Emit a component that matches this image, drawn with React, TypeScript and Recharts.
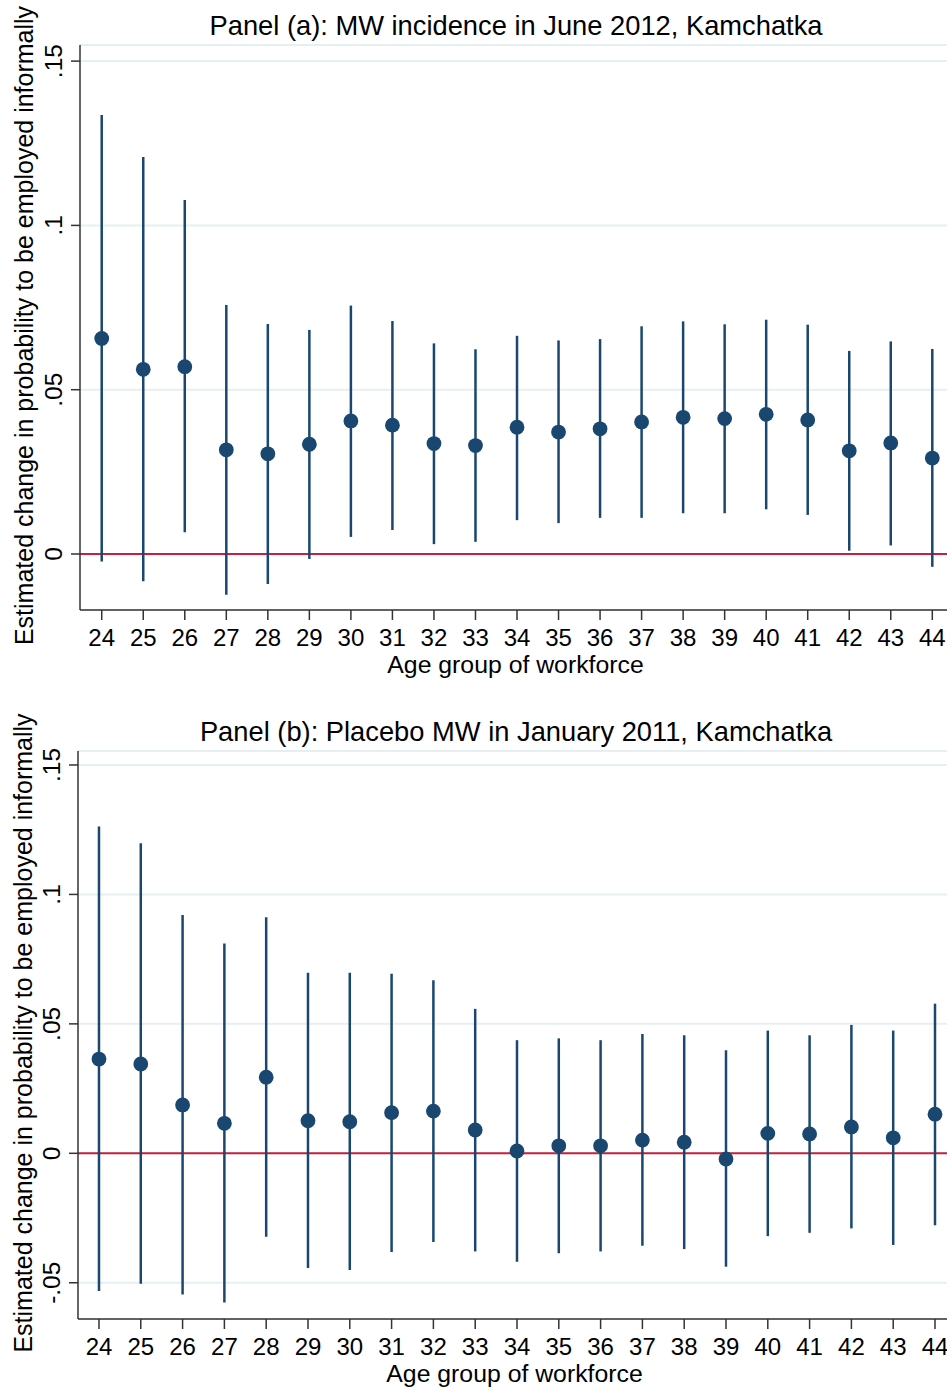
import React from "react";
import {
  ComposedChart,
  Scatter,
  ErrorBar,
  XAxis,
  YAxis,
  CartesianGrid,
  ReferenceLine,
} from "recharts";

const ages = [24, 25, 26, 27, 28, 29, 30, 31, 32, 33, 34, 35, 36, 37, 38, 39, 40, 41, 42, 43, 44];

// Panel (a): MW incidence in June 2012
const aPoint = [0.0656, 0.0562, 0.057, 0.0317, 0.0305, 0.0334, 0.0405, 0.0392, 0.0336, 0.033, 0.0386, 0.0371, 0.0381, 0.0402, 0.0416, 0.0412, 0.0425, 0.0408, 0.0314, 0.0338, 0.0292];
const aLow = [-0.0023, -0.0083, 0.0066, -0.0124, -0.0091, -0.0015, 0.0052, 0.0073, 0.003, 0.0037, 0.0103, 0.0094, 0.011, 0.011, 0.0124, 0.0124, 0.0136, 0.0119, 0.001, 0.0026, -0.0039];
const aHigh = [0.1336, 0.1208, 0.1077, 0.0758, 0.07, 0.0682, 0.0756, 0.0709, 0.0641, 0.0623, 0.0664, 0.065, 0.0654, 0.0693, 0.0708, 0.0699, 0.0713, 0.0698, 0.0618, 0.0647, 0.0624];

// Panel (b): Placebo MW in January 2011
const bPoint = [0.0364, 0.0345, 0.0187, 0.0116, 0.0294, 0.0126, 0.0122, 0.0157, 0.0163, 0.009, 0.0009, 0.0029, 0.0029, 0.0051, 0.0043, -0.0022, 0.0077, 0.0075, 0.0102, 0.006, 0.0151];
const bLow = [-0.0532, -0.0504, -0.0545, -0.0576, -0.0322, -0.0443, -0.0451, -0.0381, -0.0343, -0.0379, -0.0419, -0.0386, -0.0379, -0.0357, -0.037, -0.0438, -0.032, -0.0307, -0.029, -0.0354, -0.0278];
const bHigh = [0.1262, 0.1198, 0.0921, 0.081, 0.0912, 0.0697, 0.0697, 0.0694, 0.0668, 0.0558, 0.0437, 0.0444, 0.0437, 0.0461, 0.0456, 0.0398, 0.0474, 0.0456, 0.0496, 0.0474, 0.0578];

const aTicks = [0, 0.05, 0.1, 0.15];
const bTicks = [-0.05, 0, 0.05, 0.1, 0.15];

const titleA = "Panel (a): MW incidence in June 2012, Kamchatka";
const titleB = "Panel (b): Placebo MW in January 2011, Kamchatka";
const xTitle = "Age group of workforce";
const yTitle = "Estimated change in probability to be employed informally";

const FONT = "'Liberation Sans', Arial, Helvetica, sans-serif";
const NAVY = "#1a476f";
const RED = "#c8203c";
const AXIS = "#333333";
const GRID = "#e6eff2";

const build = (p: number[], lo: number[], hi: number[]) =>
  ages.map((age, i) => ({ age, p: p[i], err: [p[i] - lo[i], hi[i] - p[i]] }));

const dataA = build(aPoint, aLow, aHigh);
const dataB = build(bPoint, bLow, bHigh);

const fmt = (v: number) => {
  if (Math.abs(v) < 1e-9) return "0";
  const s = String(Math.round(Math.abs(v) * 1000) / 1000).replace(/^0/, "");
  return (v < 0 ? "-" : "") + s;
};

const Dot = (props: any) => {
  const { cx, cy } = props;
  if (cx == null || cy == null) return null;
  return <circle cx={cx} cy={cy} r={7.4} fill={NAVY} />;
};

type PanelProps = {
  data: any[];
  height: number;
  top: number;
  yWidth: number;
  xHeight: number;
  xDomain: [number, number];
  yDomain: [number, number];
  yTicks: number[];
  yTickX: number;
  yLabelX: number;
};

const Panel = ({ data, height, top, yWidth, xHeight, xDomain, yDomain, yTicks, yTickX, yLabelX }: PanelProps) => {
  const YTick = (props: any) => {
    const { y, payload } = props;
    return (
      <text
        x={yTickX}
        y={y}
        transform={`rotate(-90, ${yTickX}, ${y})`}
        textAnchor="middle"
        fontSize={24.5}
        fontFamily={FONT}
        fill="#000"
      >
        {fmt(payload.value)}
      </text>
    );
  };
  return (
    <ComposedChart width={947} height={height} data={data} margin={{ top, right: 0, bottom: 0, left: 0 }}>
      <CartesianGrid vertical={false} stroke={GRID} strokeWidth={2} />
      <XAxis
        dataKey="age"
        type="number"
        domain={xDomain}
        ticks={ages}
        allowDataOverflow
        height={xHeight}
        tickSize={10}
        tickMargin={9}
        stroke={AXIS}
        strokeWidth={1.5}
        tick={{ fontSize: 24, fontFamily: FONT, fill: "#000" }}
        interval={0}
        label={{
          content: (lp: any) => {
            const vb = lp.viewBox || {};
            return (
              <text
                x={(vb.x ?? 0) + (vb.width ?? 0) / 2 + 2}
                y={(vb.y ?? 0) + 63}
                textAnchor="middle"
                fontSize={24.8}
                fontFamily={FONT}
                fill="#000"
              >
                {xTitle}
              </text>
            );
          },
        }}
      />
      <YAxis
        type="number"
        domain={yDomain}
        ticks={yTicks}
        allowDataOverflow
        width={yWidth}
        tickSize={9}
        stroke={AXIS}
        strokeWidth={1.5}
        tick={<YTick />}
        interval={0}
        label={{
          content: (lp: any) => {
            const vb = lp.viewBox || {};
            const cy = (vb.y ?? 0) + (vb.height ?? 0) / 2 - 2;
            return (
              <text
                x={yLabelX}
                y={cy}
                transform={`rotate(-90, ${yLabelX}, ${cy})`}
                textAnchor="middle"
                fontSize={25}
                fontFamily={FONT}
                fill="#000"
              >
                {yTitle}
              </text>
            );
          },
        }}
      />
      <ReferenceLine y={0} stroke={RED} strokeWidth={2} />
      <Scatter dataKey="p" shape={<Dot />} isAnimationActive={false}>
        <ErrorBar dataKey="err" direction="y" width={0} stroke={NAVY} strokeWidth={2.5} isAnimationActive={false} />
      </Scatter>
    </ComposedChart>
  );
};

export default function App() {
  return (
    <div style={{ position: "absolute", left: 0, top: 0, width: 947, height: 1389, background: "#fff" }}>
      <div style={{ position: "absolute", left: 0, top: 0 }}>
        <Panel
          data={dataA}
          height={700}
          top={45}
          yWidth={80}
          xHeight={90}
          xDomain={[23.477, 44.354]}
          yDomain={[-0.01704, 0.1549]}
          yTicks={aTicks}
          yTickX={62}
          yLabelX={33}
        />
      </div>
      <div style={{ position: "absolute", left: 0, top: 700 }}>
        <Panel
          data={dataB}
          height={689}
          top={51}
          yWidth={78}
          xHeight={70}
          xDomain={[23.498, 44.287]}
          yDomain={[-0.064, 0.1554]}
          yTicks={bTicks}
          yTickX={60}
          yLabelX={32}
        />
      </div>
      <svg width={947} height={1389} style={{ position: "absolute", left: 0, top: 0, pointerEvents: "none" }}>
        <text x={516} y={35} textAnchor="middle" fontSize={27.3} fontFamily={FONT} fill="#000">
          {titleA}
        </text>
        <text x={516} y={741} textAnchor="middle" fontSize={27.3} fontFamily={FONT} fill="#000">
          {titleB}
        </text>
      </svg>
    </div>
  );
}
